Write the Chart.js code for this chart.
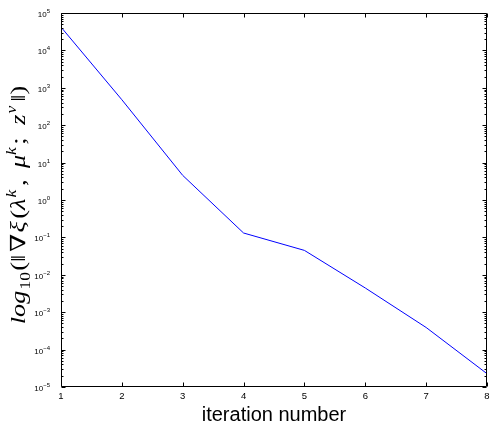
<!DOCTYPE html>
<html>
<head>
<meta charset="utf-8">
<script src="https://cdn.jsdelivr.net/npm/chart.js@4.4.1/dist/chart.umd.min.js"></script>
<style>
  body { margin: 0; background: #fff; }
  canvas { display: block; }
</style>
</head>
<body>
<canvas id="myChart" width="498" height="427"></canvas>
<script>
// data
const iterations = [1, 2, 3, 4, 5, 6, 7, 8];
const gradNorm = [4.2e4, 4.8e2, 4.55, 0.131, 0.0449, 0.00444, 3.9e-4, 2.27e-5];
const yExponents = [5, 4, 3, 2, 1, 0, -1, -2, -3, -4, -5];

const points = iterations.map((it, i) => ({ x: it, y: gradNorm[i] }));

// matlab-ish box, inward ticks, 10^n labels, math y title
const matlabAxes = {
  id: 'matlabAxes',
  afterDraw(chart) {
    const { ctx, chartArea: a, scales: { x, y } } = chart;
    const L = Math.round(a.left) + 0.5, R = Math.round(a.right) - 0.5;
    const T = Math.round(a.top) + 0.5, B = Math.round(a.bottom) - 0.5;
    ctx.save();
    ctx.strokeStyle = '#000';
    ctx.lineWidth = 1;
    ctx.beginPath();
    ctx.rect(L, T, R - L, B - T);
    iterations.forEach(v => {
      const px = Math.round(x.getPixelForValue(v)) + 0.5;
      ctx.moveTo(px, B); ctx.lineTo(px, B - 4);
      ctx.moveTo(px, T); ctx.lineTo(px, T + 4);
    });
    yExponents.forEach(e => {
      const py = Math.round(y.getPixelForValue(Math.pow(10, e))) + 0.5;
      ctx.moveTo(L, py); ctx.lineTo(L + 4, py);
      ctx.moveTo(R, py); ctx.lineTo(R - 4, py);
      if (e > -5) {
        for (let m = 2; m <= 9; m++) {
          const my = Math.round(y.getPixelForValue(m * Math.pow(10, e - 1))) + 0.5;
          ctx.moveTo(L, my); ctx.lineTo(L + 2, my);
          ctx.moveTo(R, my); ctx.lineTo(R - 2, my);
        }
      }
    });
    ctx.stroke();

    // y tick labels
    ctx.fillStyle = '#000';
    ctx.textBaseline = 'alphabetic';
    ctx.textAlign = 'left';
    const baseFont = '8px "Liberation Sans", Arial, sans-serif';
    const expFont = '6px "Liberation Sans", Arial, sans-serif';
    yExponents.forEach(e => {
      const py = y.getPixelForValue(Math.pow(10, e));
      const expText = e < 0 ? '\u2212' + (-e) : String(e);
      ctx.font = baseFont;
      const wb = ctx.measureText('10').width;
      ctx.font = expFont;
      const we = ctx.measureText(expText).width;
      const x0 = a.left - 11 - wb - we;
      ctx.font = baseFont;
      ctx.fillText('10', x0, py + 4);
      ctx.font = expFont;
      ctx.fillText(expText, x0 + wb, py);
    });

    // y axis title (pad = extra gap after the piece)
    const serif = '"Liberation Serif", "DejaVu Serif", serif';
    const big = 21, small = 14;
    const it = 'italic ' + big + 'px ' + serif, up = big + 'px ' + serif;
    const sit = 'italic ' + small + 'px ' + serif, sup = small + 'px ' + serif;
    const parts = [
      { t: 'log', f: it, dy: 0, pad: 1 },
      { t: '10', f: sup, dy: 5, pad: 1 },
      { t: '(', f: up, dy: 0, pad: 0 },
      { t: '\u2016', f: up, dy: 0, pad: 2 },
      { t: '\u2207', f: up, dy: 0, pad: 1 },
      { t: '\u03BE', f: it, dy: 0, pad: 2 },
      { t: '(', f: up, dy: 0, pad: 0 },
      { t: '\u03BB', f: it, dy: 0, pad: 1 },
      { t: 'k', f: sit, dy: -9, pad: 3 },
      { t: ',', f: up, dy: 0, pad: 9 },
      { t: '\u03BC', f: it, dy: 0, pad: 0 },
      { t: 'k', f: sit, dy: -9, pad: 2 },
      { t: ';', f: up, dy: 0, pad: 10 },
      { t: 'z', f: it, dy: 0, pad: 1 },
      { t: '\u03BD', f: sit, dy: -9, pad: 3 },
      { t: '\u2016', f: up, dy: 0, pad: 0 },
      { t: ')', f: up, dy: 0, pad: 0 }
    ];
    const stretch = 1.25;
    let total = 0;
    parts.forEach(p => { ctx.font = p.f; p.w = ctx.measureText(p.t).width; total += p.w + p.pad; });
    ctx.translate(25, 205);
    ctx.rotate(-Math.PI / 2);
    ctx.scale(stretch, 1);
    let cx = -total / 2;
    parts.forEach(p => {
      ctx.font = p.f;
      ctx.fillText(p.t, cx, p.dy);
      cx += p.w + p.pad;
    });
    ctx.restore();
  }
};

const config = {
  type: 'line',
  data: {
    datasets: [{
      data: points,
      borderColor: '#0000ff',
      borderWidth: 1,
      pointRadius: 0,
      tension: 0,
      fill: false
    }]
  },
  options: {
    responsive: false,
    animation: false,
    layout: { padding: { top: 13, right: 11, left: 0, bottom: 0 } },
    plugins: { legend: { display: false }, tooltip: { enabled: false } },
    scales: {
      x: {
        type: 'linear',
        min: 1,
        max: 8,
        grid: { display: false, drawTicks: false },
        border: { display: false },
        ticks: {
          stepSize: 1,
          padding: 4,
          color: '#000',
          maxRotation: 0,
          font: { family: '"Liberation Sans", Arial, sans-serif', size: 9.5 }
        },
        title: {
          display: true,
          text: 'iteration number',
          color: '#000',
          padding: { top: 0, bottom: 0 },
          font: { family: '"Liberation Sans", Arial, sans-serif', size: 20 }
        },
        afterFit(scale) { scale.height = 40; }
      },
      y: {
        type: 'logarithmic',
        min: 1e-5,
        max: 1e5,
        grid: { display: false, drawTicks: false },
        border: { display: false },
        ticks: { display: false },
        afterFit(scale) { scale.width = 61; }
      }
    }
  },
  plugins: [matlabAxes]
};

const myChart = new Chart(document.getElementById('myChart'), config);
</script>
</body>
</html>
